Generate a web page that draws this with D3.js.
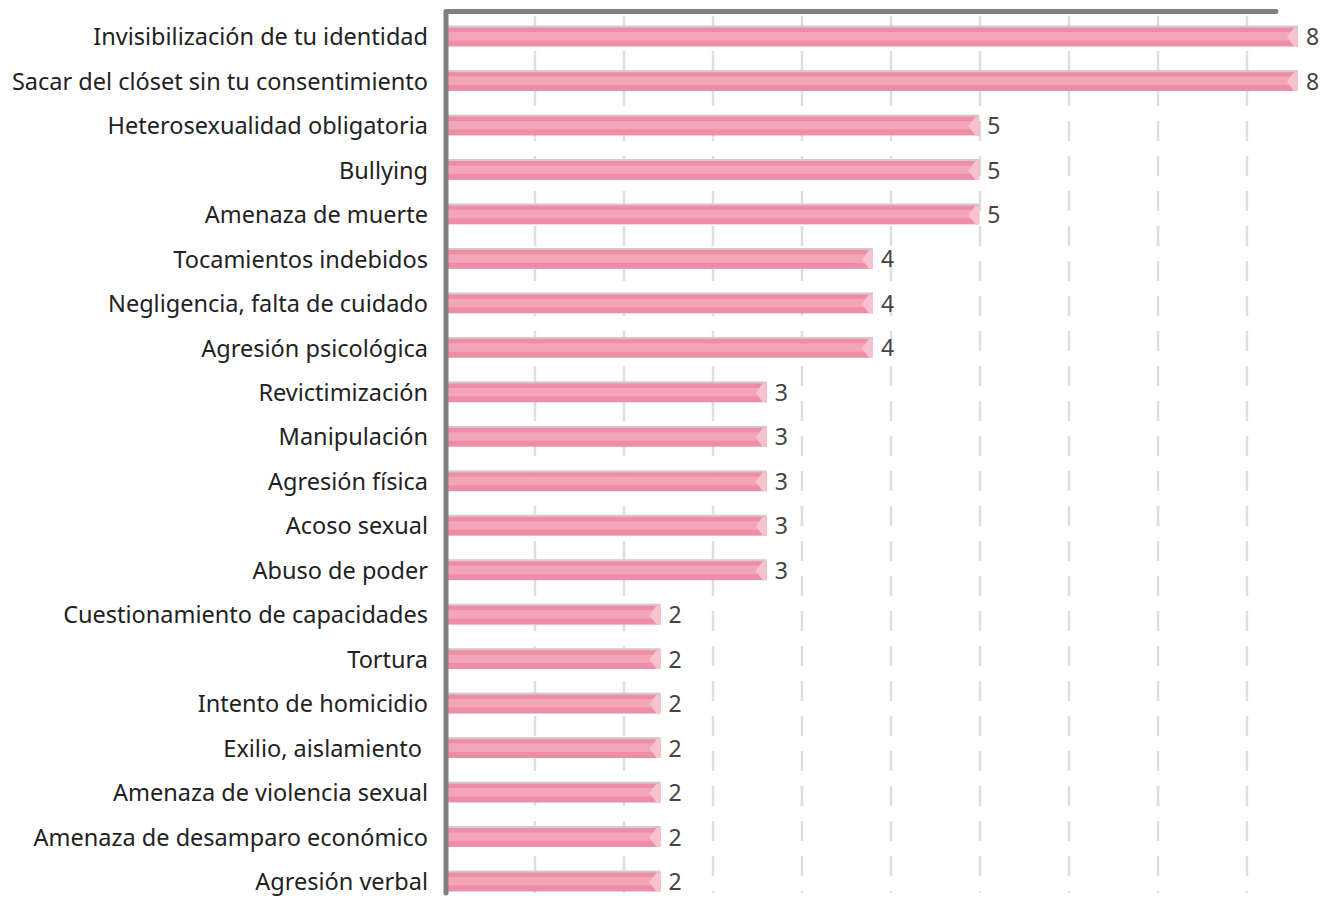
<!DOCTYPE html>
<html>
<head>
<meta charset="utf-8">
<script src="https://cdn.jsdelivr.net/npm/d3@7"></script>
<style>
  html, body { margin: 0; padding: 0; background: #fff; }
  svg { display: block; }
  text { font-family: "Noto Sans", sans-serif; }
</style>
</head>
<body>
<svg id="chart" width="1333" height="898"></svg>
<script>
// Tipos de violencia reportados y número de menciones
const categories = [
  "Invisibilización de tu identidad",
  "Sacar del clóset sin tu consentimiento",
  "Heterosexualidad obligatoria",
  "Bullying",
  "Amenaza de muerte",
  "Tocamientos indebidos",
  "Negligencia, falta de cuidado",
  "Agresión psicológica",
  "Revictimización",
  "Manipulación",
  "Agresión física",
  "Acoso sexual",
  "Abuso de poder",
  "Cuestionamiento de capacidades",
  "Tortura",
  "Intento de homicidio",
  "Exilio, aislamiento ",
  "Amenaza de violencia sexual",
  "Amenaza de desamparo económico",
  "Agresión verbal"
];
const values = [8, 8, 5, 5, 5, 4, 4, 4, 3, 3, 3, 3, 3, 2, 2, 2, 2, 2, 2, 2];
// Posiciones de las líneas guía verticales (en unidades de la escala de cuadrícula)
const gridTicks = [1, 2, 3, 4, 5, 6, 7, 8, 9];

const data = categories.map((c, i) => ({ label: c, value: values[i] }));

const svg = d3.select("#chart");
const axisX = 446;
const barX = 448;

const x = d3.scaleLinear().domain([0, 8]).range([barX, 1298]);
const gridX = d3.scaleLinear().domain([0, 10]).range([axisX, 1336]);
const y = d3.scaleBand()
  .domain(categories)
  .range([13.8, 903.2])
  .paddingInner(0.53)
  .paddingOuter(0.265);

// Cuadrícula discontinua
svg.append("g").selectAll("line")
  .data(gridTicks)
  .join("line")
  .attr("x1", d => gridX(d)).attr("x2", d => gridX(d))
  .attr("y1", 14).attr("y2", 893)
  .attr("stroke", "#dedede")
  .attr("stroke-width", 2.5)
  .attr("stroke-dasharray", "20 15")
  .attr("stroke-dashoffset", -2);

// Barras con efecto de relieve
const bh = y.bandwidth();
const bars = svg.append("g").selectAll("g")
  .data(data)
  .join("g")
  .attr("transform", d => `translate(0,${y(d.label)})`);

bars.append("rect")
  .attr("x", barX).attr("y", 0)
  .attr("width", d => x(d.value) - barX).attr("height", 2.5)
  .attr("fill", "#cdcdcd");
bars.append("rect")
  .attr("x", barX).attr("y", 2)
  .attr("width", d => x(d.value) - barX).attr("height", bh - 2)
  .attr("fill", "#ef8da7");
bars.append("rect")
  .attr("x", barX).attr("y", 6.5)
  .attr("width", d => x(d.value) - barX).attr("height", bh - 12.5)
  .attr("fill", "#f4a6b9");
bars.append("polygon")
  .attr("points", d => {
    const e = x(d.value);
    const t = 2, b = bh, m = (t + b) / 2;
    return [[e - 4, t], [e - 11, m], [e - 4, b], [e, b], [e, t]].map(p => p.join(",")).join(" ");
  })
  .attr("fill", "#f7c2ce");

// Etiquetas de valor
bars.append("text")
  .attr("x", d => x(d.value) + 8)
  .attr("y", bh / 2 + 1)
  .attr("dy", "0.35em")
  .attr("font-size", 23)
  .attr("fill", "#444")
  .text(d => d.value);

// Etiquetas de categoría
svg.append("g").selectAll("text")
  .data(data)
  .join("text")
  .attr("x", 428)
  .attr("y", d => y(d.label) + bh / 2 + 1)
  .attr("dy", "0.35em")
  .attr("text-anchor", "end")
  .attr("font-size", 23.5)
  .attr("fill", "#222")
  .style("white-space", "pre")
  .text(d => d.label);

// Ejes: línea vertical y línea superior
svg.append("path")
  .attr("d", `M${axisX},893 L${axisX},11.5 L1276,11.5`)
  .attr("fill", "none")
  .attr("stroke", "#808080")
  .attr("stroke-width", 5)
  .attr("stroke-linecap", "round")
  .attr("stroke-linejoin", "round");
</script>
</body>
</html>
